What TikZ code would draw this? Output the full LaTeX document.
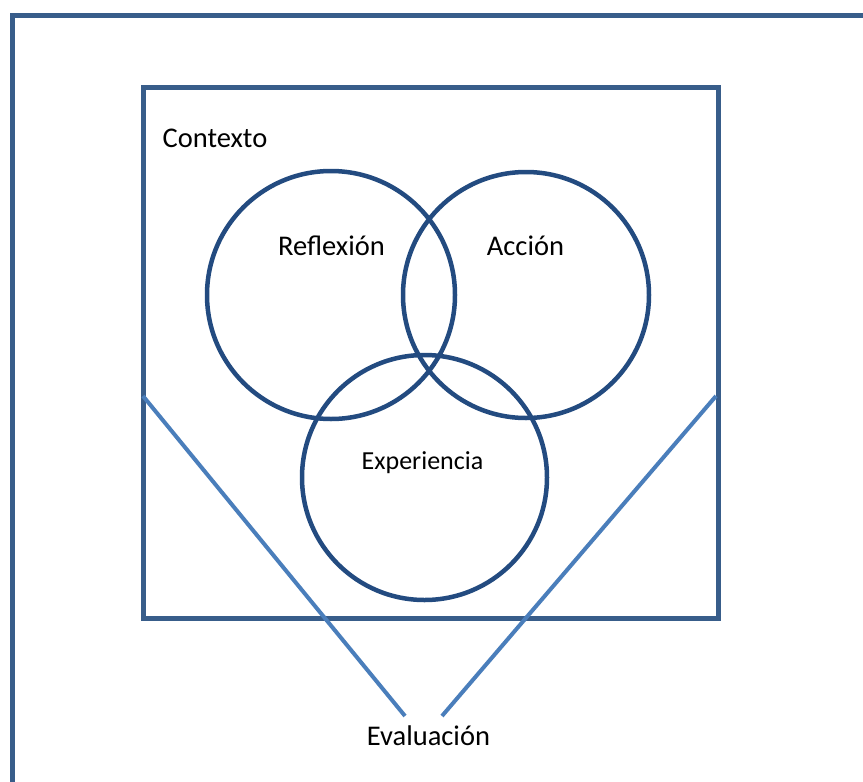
\documentclass[tikz,border=0pt]{standalone}
\usepackage{fontspec}
\setmainfont{Carlito}
\definecolor{frameblue}{HTML}{385D8A}
\definecolor{ringblue}{HTML}{234B80}
\definecolor{evalblue}{HTML}{4A7EBB}
\tikzset{
  frame/.style={draw=frameblue,line width=5pt},
  ring/.style={circle,draw=ringblue,line width=4.5pt,inner sep=0pt},
  evline/.style={draw=evalblue,line width=4pt},
  lbl/.style={anchor=base,inner sep=0pt,font=\fontsize{28.5}{34}\selectfont},
}
\def\ev{\draw[evline]}

\begin{document}
\begin{tikzpicture}[x=1pt,y=-1pt]
  \clip (0,0) rectangle (863,782);
  \fill[white] (0,0) rectangle (863,782);
  % outer frame, runs off the page
  \draw[frame] (12,900) -- (12,15) -- (900,15);
  % context box
  \node[frame,minimum width=575pt,minimum height=531pt] (ctx) at (430.5,352.5) {};
  \node[lbl] (ctxlbl) at (215,147) {Contexto};
  % the three rings
  \node[ring,minimum size=248pt] (refl) at (331,295) {};
  \node[ring,minimum size=246pt] (acc)  at (526,295) {};
  \node[ring,minimum size=245pt] (exp)  at (424.5,477.5) {};
  \node[lbl] (refllbl) at (331.5,255) {Reflexión};
  \node[lbl] (acclbl)  at (525.5,255) {Acción};
  \node[lbl,font=\fontsize{26}{31}\selectfont] (explbl) at (422.5,469) {Experiencia};
  % evaluation
  \node[lbl] (eval) at (428.5,745) {Evaluación};
  \coordinate (ll) at (143,396);
  \coordinate (rr) at (716,396);
  \coordinate (le) at (405,716);
  \coordinate (re) at (442,716);
  \ev (ll) -- (le);
  \ev (rr) -- (re);
\end{tikzpicture}
\end{document}
